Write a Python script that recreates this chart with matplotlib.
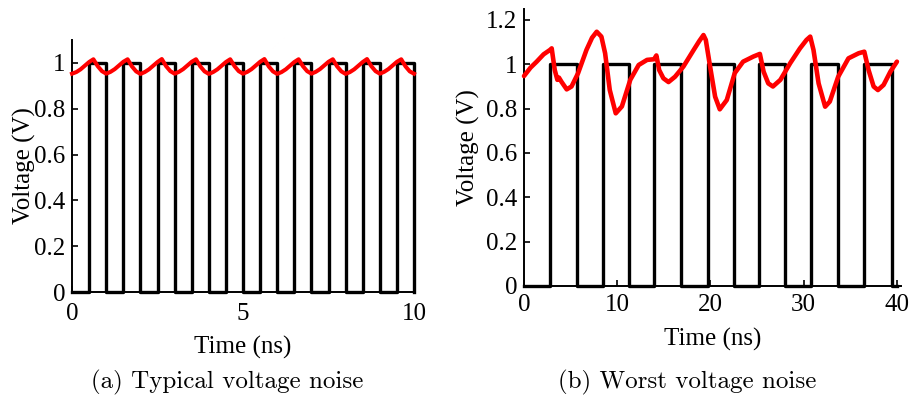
import numpy as np
import matplotlib
matplotlib.use("Agg")
import matplotlib.pyplot as plt

# (a) typical noise: clock edges and supply voltage
typ_edge_t = [0.0, 0.5, 1.0, 1.5, 2.0, 2.5, 3.0, 3.5, 4.0, 4.5, 5.0,
              5.5, 6.0, 6.5, 7.0, 7.5, 8.0, 8.5, 9.0, 9.5, 10.0]
typ_level = [0, 1, 0, 1, 0, 1, 0, 1, 0, 1, 0,
             1, 0, 1, 0, 1, 0, 1, 0, 1, 0]
typ_time = np.arange(0, 10.001, 0.125)
typ_volt = [
    0.953, 0.960, 0.972, 0.988, 1.004, 1.016, 0.986, 0.964,
    0.953, 0.961, 0.973, 0.989, 1.005, 1.016, 0.985, 0.963,
    0.952, 0.960, 0.972, 0.988, 1.004, 1.017, 0.986, 0.964,
    0.953, 0.961, 0.973, 0.989, 1.005, 1.016, 0.985, 0.963,
    0.952, 0.960, 0.972, 0.988, 1.004, 1.016, 0.986, 0.964,
    0.953, 0.961, 0.973, 0.989, 1.005, 1.017, 0.985, 0.963,
    0.952, 0.960, 0.972, 0.988, 1.004, 1.016, 0.986, 0.964,
    0.953, 0.961, 0.973, 0.989, 1.005, 1.016, 0.985, 0.963,
    0.952, 0.960, 0.972, 0.988, 1.004, 1.017, 0.986, 0.964,
    0.953, 0.961, 0.973, 0.989, 1.005, 1.016, 0.985, 0.963,
    0.953,
]

# (b) worst-case noise
worst_edge_t = [0.0, 2.8, 5.65, 8.45, 11.3, 13.95, 16.8, 19.7, 22.5,
                25.2, 28.0, 30.8, 33.7, 36.5, 39.5, 40.0]
worst_level = [0, 1, 0, 1, 0, 1, 0, 1, 0, 1, 0, 1, 0, 1, 0, 0]
worst_time = [0.0, 0.7, 1.36, 2.1, 2.79, 2.97, 3.3, 3.58, 3.75, 4.04, 4.58,
              5.1, 5.8, 6.7, 7.3, 7.8, 8.3, 8.7, 9.2, 9.84, 10.5, 11.4,
              12.3, 13.2, 13.95, 14.2, 14.5, 14.95, 15.5, 16.2, 17.1, 18.2,
              18.8, 19.25, 19.5, 19.96, 20.5, 21.0, 21.75, 22.6, 23.5, 24.6,
              25.3, 25.7, 26.2, 26.7, 27.5, 28.55, 29.6, 30.3, 30.7, 31.05,
              31.6, 32.3, 32.8, 33.7, 34.8, 35.9, 36.5, 36.96, 37.5, 37.96,
              38.57, 39.3, 40.0]
worst_volt = [0.947, 0.985, 1.012, 1.045, 1.065, 1.072, 0.974, 0.93, 0.94,
              0.92, 0.887, 0.9, 0.96, 1.065, 1.12, 1.147, 1.125, 1.05, 0.884,
              0.779, 0.81, 0.93, 0.997, 1.02, 1.023, 1.04, 0.974, 0.937, 0.92,
              0.944, 0.99, 1.065, 1.105, 1.132, 1.11, 0.99, 0.854, 0.797,
              0.839, 0.96, 1.012, 1.035, 1.047, 0.967, 0.914, 0.9, 0.93,
              1.005, 1.072, 1.11, 1.125, 1.065, 0.914, 0.809, 0.832, 0.944,
              1.027, 1.05, 1.057, 0.974, 0.9, 0.884, 0.907, 0.967, 1.012]

tick_font = "Liberation Serif"
cap_font = "cmr10"


def style_axes(ax, xlim, ylim, xticks, yticks, xpad, labelpad):
    ax.set_xlim(*xlim)
    ax.set_ylim(*ylim)
    ax.set_xticks(xticks)
    ax.set_xticklabels([f"{t:g}" for t in xticks])
    ax.set_yticks(yticks)
    ax.set_yticklabels([f"{t:g}" for t in yticks])
    for side in ("top", "right"):
        ax.spines[side].set_visible(False)
    for side in ("left", "bottom"):
        ax.spines[side].set_linewidth(1.4)
    ax.tick_params(direction="in", length=4, width=1.2, labelsize=18)
    ax.tick_params(axis="x", pad=xpad)
    ax.tick_params(axis="y", pad=5)
    for lab in ax.get_xticklabels() + ax.get_yticklabels():
        lab.set_fontfamily(tick_font)
    ax.set_xlabel("Time (ns)", fontsize=18, fontfamily=tick_font,
                  labelpad=labelpad)
    ax.set_ylabel("Voltage (V)", fontsize=18, fontfamily=tick_font, va="center")


fig = plt.figure(figsize=(9.14, 4.01), dpi=100)

ax1 = fig.add_axes([0.0788, 0.2718, 0.3742, 0.6284])
ax1.step(typ_edge_t, typ_level, where="post", color="black", lw=2.4,
         clip_on=False, zorder=2)
ax1.plot(typ_time, typ_volt, color="red", lw=2.9, solid_joinstyle="round",
         clip_on=False, zorder=3)
style_axes(ax1, (0, 10), (0, 1.1), [0, 5, 10], [0, 0.2, 0.4, 0.6, 0.8, 1],
           xpad=8, labelpad=8)
ax1.yaxis.set_label_coords(-0.14, 0.5)

ax2 = fig.add_axes([0.5733, 0.2868, 0.4121, 0.6910])
ax2.step(worst_edge_t, worst_level, where="post", color="black", lw=2.4,
         clip_on=False, zorder=2)
ax2.plot(worst_time, worst_volt, color="red", lw=3.3, solid_joinstyle="round",
         solid_capstyle="round", clip_on=False, zorder=3)
style_axes(ax2, (0, 40.4), (0, 1.25), [0, 10, 20, 30, 40],
           [0, 0.2, 0.4, 0.6, 0.8, 1, 1.2], xpad=6, labelpad=8)
ax2.yaxis.set_label_coords(-0.148, 0.5)

fig.text(227.5 / 914, 0.047, "(a) Typical voltage noise", fontsize=18,
         fontfamily=cap_font, ha="center", va="center")
fig.text(687 / 914, 0.047, "(b) Worst voltage noise", fontsize=18,
         fontfamily=cap_font, ha="center", va="center")

fig.savefig("out.png", dpi=100)
